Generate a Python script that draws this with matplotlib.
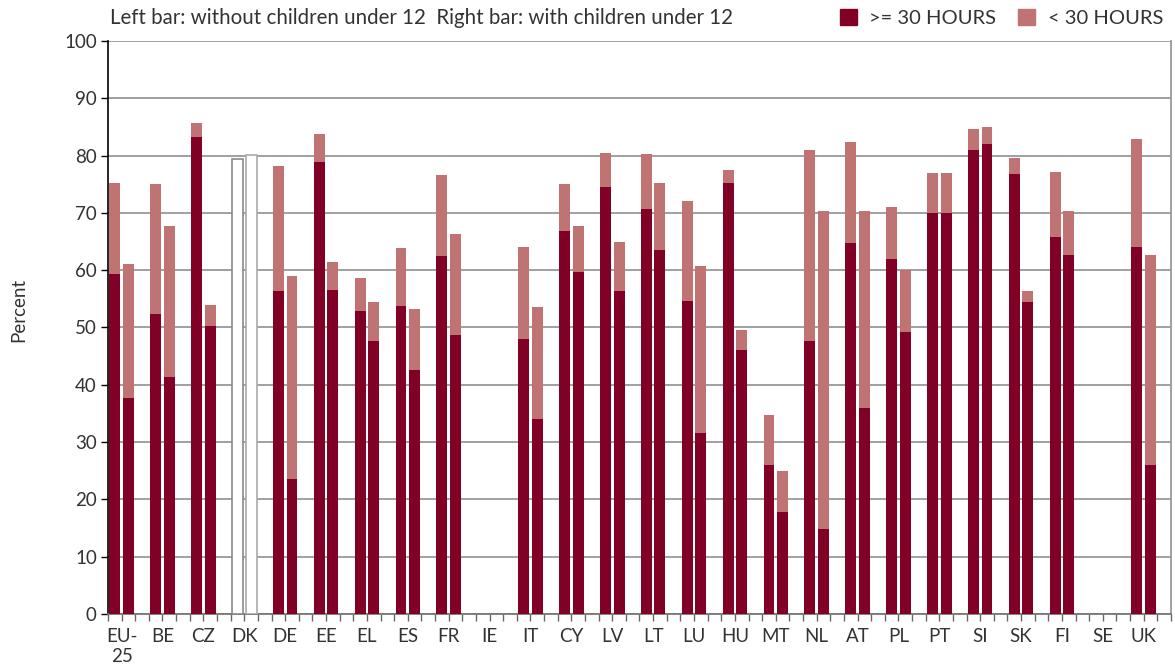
import matplotlib.pyplot as plt
import numpy as np

plt.rcParams['font.family'] = ['Lato', 'DejaVu Sans']

countries = ['EU-\n25', 'BE', 'CZ', 'DK', 'DE', 'EE', 'EL', 'ES', 'FR', 'IE', 'IT', 'CY', 'LV',
             'LT', 'LU', 'HU', 'MT', 'NL', 'AT', 'PL', 'PT', 'SI', 'SK', 'FI', 'SE', 'UK']

# Left bar: without children under 12 (total employment rate, and share >= 30 hours)
left_full = [59.3, 52.3, 83.3, 0, 56.3, 78.8, 52.8, 53.7, 62.4, 0, 48.0, 66.8, 74.5,
             70.7, 54.6, 75.2, 26.0, 47.6, 64.7, 62.0, 70.0, 80.9, 76.8, 65.8, 0, 64.0]
left_total = [75.3, 75.0, 85.7, 0, 78.2, 83.8, 58.6, 63.9, 76.6, 0, 64.0, 75.0, 80.5,
              80.3, 72.0, 77.5, 34.7, 81.0, 82.3, 71.0, 77.0, 84.6, 79.6, 77.2, 0, 82.9]

# Right bar: with children under 12
right_full = [37.7, 41.3, 50.3, 0, 23.6, 56.5, 47.6, 42.6, 48.7, 0, 34.0, 59.7, 56.3,
              63.6, 31.6, 46.0, 17.8, 14.9, 36.0, 49.3, 70.0, 82.0, 54.4, 62.6, 0, 26.0]
right_total = [61.0, 67.7, 54.0, 0, 59.0, 61.5, 54.4, 53.3, 66.3, 0, 53.6, 67.7, 65.0,
               75.3, 60.7, 49.5, 25.0, 70.3, 70.3, 60.0, 77.0, 85.0, 56.3, 70.4, 0, 62.7]

# DK only has totals (no split)
dk_totals = [79.4, 80.1]

dark = '#800026'
light = '#bf7372'
txt = '#333333'

left_full = np.array(left_full)
left_total = np.array(left_total)
right_full = np.array(right_full)
right_total = np.array(right_total)

fig = plt.figure(figsize=(11.75, 6.67), dpi=100)
ax = fig.add_axes([0.0919, 0.0795, 0.9047, 0.859])

n = len(countries)
xl = np.arange(n) * 3 + 0.5
xr = np.arange(n) * 3 + 1.5
w = 0.8

ax.bar(xl, left_full, w, color=dark, zorder=3)
ax.bar(xl, left_total - left_full, w, bottom=left_full, color=light, zorder=3)
ax.bar(xr, right_full, w, color=dark, zorder=3)
ax.bar(xr, right_total - right_full, w, bottom=right_full, color=light, zorder=3)

dk = countries.index('DK')
ax.bar([xl[dk]], [dk_totals[0]], w, color='white', edgecolor='#8a8a8a', linewidth=1.2, zorder=3)
ax.bar([xr[dk]], [dk_totals[1]], w, color='white', edgecolor='#aaaaaa', linewidth=1.2, zorder=3)

ax.set_xlim(0, 3 * n)
ax.set_ylim(0, 100)
ax.set_yticks(np.arange(0, 101, 10))
ax.yaxis.grid(True, color='#999999', linewidth=1.3, zorder=0)
ax.set_axisbelow(True)

ax.set_xticks(np.arange(n) * 3 + 1)
ax.set_xticklabels(countries, fontsize=13.5, color=txt, linespacing=1.25, va='top')
ax.set_xticks(np.arange(0, 3 * n + 1), minor=True)
ax.tick_params(axis='x', which='major', length=5, color='#666666', width=1, pad=5)
ax.tick_params(axis='x', which='minor', length=5, color='#666666', width=1)
ax.tick_params(axis='y', length=5, color='black', width=1, labelsize=13.5, labelcolor=txt, pad=3)

ax.spines['top'].set_visible(False)
ax.spines['right'].set_color('#999999')
ax.spines['right'].set_linewidth(1.3)
ax.spines['bottom'].set_color('#777777')
ax.spines['bottom'].set_linewidth(1.3)
ax.spines['left'].set_color('black')
ax.spines['left'].set_linewidth(1.2)

fig.text(0.016, 0.535, 'Percent', fontsize=13.5, color=txt, rotation=90, va='center', ha='center')

fig.text(0.094, 0.973, 'Left bar: without children under 12  Right bar: with children under 12',
         fontsize=14.8, color=txt, va='center', ha='left')

# legend
h1 = plt.Rectangle((0, 0), 1, 1, color=dark)
h2 = plt.Rectangle((0, 0), 1, 1, color=light)
fig.legend([h1, h2], ['>= 30 HOURS', '< 30 HOURS'], loc='center right',
           bbox_to_anchor=(1.0, 0.973), ncol=2, frameon=False, fontsize=14.5,
           labelcolor=txt, handlelength=0.85, handleheight=0.85, handletextpad=0.6,
           columnspacing=1.1, borderaxespad=0.2)

fig.savefig('out.png', dpi=100)
